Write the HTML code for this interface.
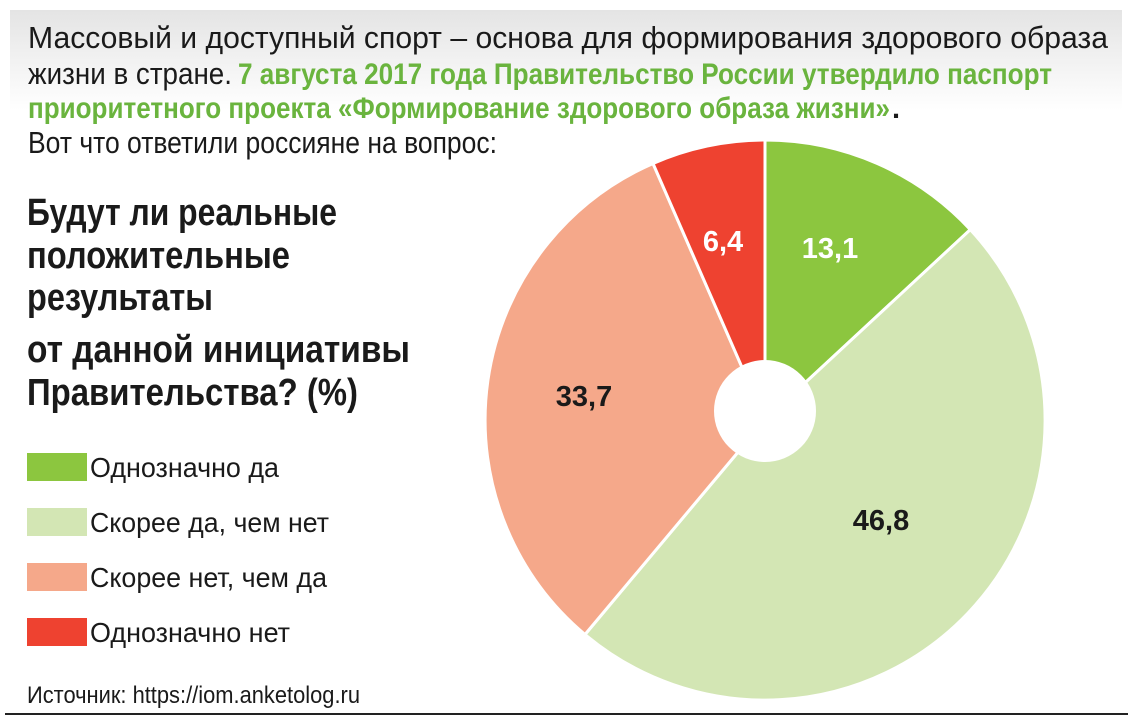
<!DOCTYPE html>
<html><head><meta charset="utf-8"><style>
html,body{margin:0;padding:0;background:#fff;}
svg{display:block;}
</style></head><body>
<svg width="1133" height="725" viewBox="0 0 1133 725" xmlns="http://www.w3.org/2000/svg" font-family="'Liberation Sans', sans-serif">
<defs><linearGradient id="g" x1="0" y1="0" x2="0" y2="1">
<stop offset="0" stop-color="#e4e4e4"/><stop offset="1" stop-color="#ffffff"/></linearGradient></defs>
<rect x="10" y="10" width="1112" height="100" fill="url(#g)"/>
<text x="28" y="48" font-size="31" fill="#1a1a1a" textLength="1080" lengthAdjust="spacingAndGlyphs">Массовый и доступный спорт – основа для формирования здорового образа</text>
<text x="28" y="84" font-size="31" fill="#1a1a1a" textLength="204" lengthAdjust="spacingAndGlyphs">жизни в стране.</text>
<text x="238" y="84" font-size="30" font-weight="bold" fill="#6ab43e" textLength="814" lengthAdjust="spacingAndGlyphs">7 августа 2017 года Правительство России утвердило паспорт</text>
<text x="28" y="118" font-size="30" font-weight="bold" fill="#6ab43e" textLength="862" lengthAdjust="spacingAndGlyphs">приоритетного проекта «Формирование здорового образа жизни»</text>
<text x="892" y="118" font-size="29" font-weight="bold" fill="#1a1a1a">.</text>
<text x="28" y="153" font-size="31" fill="#1a1a1a" textLength="469" lengthAdjust="spacingAndGlyphs">Вот что ответили россияне на вопрос:</text>

<g font-size="38" font-weight="bold" fill="#1a1a1a">
<text x="27" y="225" textLength="310" lengthAdjust="spacingAndGlyphs">Будут ли реальные</text>
<text x="27" y="268" textLength="263" lengthAdjust="spacingAndGlyphs">положительные</text>
<text x="27" y="310" textLength="186" lengthAdjust="spacingAndGlyphs">результаты</text>
<text x="27" y="362" textLength="383" lengthAdjust="spacingAndGlyphs">от данной инициативы</text>
<text x="27" y="405" textLength="331" lengthAdjust="spacingAndGlyphs">Правительства? (%)</text>
</g>

<rect x="27" y="453" width="60" height="28" fill="#8cc63f"/>
<rect x="27" y="508" width="60" height="28" fill="#d3e6b4"/>
<rect x="27" y="563" width="60" height="28" fill="#f5a88a"/>
<rect x="27" y="618" width="60" height="28" fill="#ee4230"/>
<g font-size="28" fill="#1a1a1a">
<text x="90" y="477" textLength="189" lengthAdjust="spacingAndGlyphs">Однозначно да</text>
<text x="90" y="532" textLength="239" lengthAdjust="spacingAndGlyphs">Скорее да, чем нет</text>
<text x="90" y="587" textLength="237" lengthAdjust="spacingAndGlyphs">Скорее нет, чем да</text>
<text x="90" y="642" textLength="200" lengthAdjust="spacingAndGlyphs">Однозначно нет</text>
</g>
<text x="27" y="703" font-size="24" fill="#1a1a1a" textLength="333" lengthAdjust="spacingAndGlyphs">Источник: https://iom.anketolog.ru</text>
<line x1="5" y1="714" x2="1128" y2="714" stroke="#222" stroke-width="2"/>

<g stroke="#fff" stroke-width="3" stroke-linejoin="round">
<path d="M765 420 L765 140 A280 280 0 0 1 970.3 229.6 Z" fill="#8cc63f"/>
<path d="M765 420 L970.3 229.6 A280 280 0 0 1 585 634.5 Z" fill="#d3e6b4"/>
<path d="M765 420 L585 634.5 A280 280 0 0 1 653 163.5 Z" fill="#f5a88a"/>
<path d="M765 420 L653 163.5 A280 280 0 0 1 765 140 Z" fill="#ee4230"/>
</g>
<circle cx="765" cy="411" r="51" fill="#fff"/>
<g font-size="29" font-weight="bold" text-anchor="middle">
<text x="830" y="258" fill="#fff">13,1</text>
<text x="723" y="251" fill="#fff">6,4</text>
<text x="584" y="406" fill="#1a1a1a">33,7</text>
<text x="881" y="530" fill="#1a1a1a">46,8</text>
</g>
</svg>
</body></html>
